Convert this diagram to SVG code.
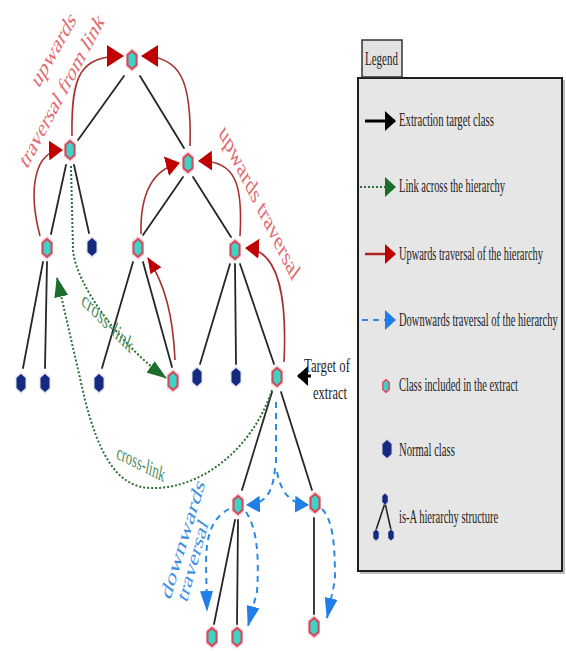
<svg xmlns="http://www.w3.org/2000/svg" width="566" height="651" viewBox="0 0 566 651">
<style>
.edge{stroke:#262626;stroke-width:1.8;fill:none;stroke-linecap:round}
.up{stroke:#a8302f;stroke-width:1.6;fill:none}
.cl{stroke:#2d6e33;stroke-width:2;stroke-dasharray:2 2;fill:none}
.dn{stroke:#2b8ae6;stroke-width:2;stroke-dasharray:6 5;fill:none}
.lt{font-family:"Liberation Serif",serif;font-size:18px;fill:#1e1e1e}
.rt{font-family:"Liberation Serif",serif;fill:#e26a70}
.gt{font-family:"Liberation Serif",serif;fill:#4e8a58}
.bt{font-family:"Liberation Serif",serif;fill:#3f8fe0}
</style>
<defs>
<g id="inc"><polygon points="0,-12 6,-7 6,7 0,12 -6,7 -6,-7" fill="#f9d3d7"/><polygon points="0,-9 4.5,-5 4.5,5 0,9 -4.5,5 -4.5,-5" fill="#3fd3c6" stroke="#d4485c" stroke-width="2"/></g>
<g id="nrm"><polygon points="0,-11 5.5,-6 5.5,6 0,11 -5.5,6 -5.5,-6" fill="#c9cfe8" opacity="0.6"/><polygon points="0,-9 4.5,-5 4.5,5 0,9 -4.5,5 -4.5,-5" fill="#142a80"/></g>
<marker id="hRed" markerUnits="userSpaceOnUse" markerWidth="14" markerHeight="20" viewBox="0 0 14 20" refX="13" refY="10" orient="auto"><path d="M0,0 L14,10 L0,20 Z" fill="#c00000"/></marker>
<marker id="hRedBig" markerUnits="userSpaceOnUse" markerWidth="17" markerHeight="22" viewBox="0 0 17 22" refX="16" refY="11" orient="auto"><path d="M0,0 L17,11 L0,22 Z" fill="#c00000"/></marker>
<marker id="vRed" markerUnits="userSpaceOnUse" markerWidth="16" markerHeight="13" viewBox="0 0 16 13" refX="15" refY="6.5" orient="auto"><path d="M0,0 L16,6.5 L0,13 Z" fill="#c00000"/></marker>
<marker id="vGreen" markerUnits="userSpaceOnUse" markerWidth="20" markerHeight="14" viewBox="0 0 20 14" refX="19" refY="7" orient="auto"><path d="M0,0 L20,7 L0,14 Z" fill="#1b6e2c"/></marker>
<marker id="hBlue" markerUnits="userSpaceOnUse" markerWidth="14" markerHeight="17" viewBox="0 0 14 17" refX="13" refY="8.5" orient="auto"><path d="M0,0 L14,8.5 L0,17 Z" fill="#1f7fe6"/></marker>
<marker id="vBlue" markerUnits="userSpaceOnUse" markerWidth="21" markerHeight="13" viewBox="0 0 21 13" refX="20" refY="6.5" orient="auto"><path d="M0,0 L21,6.5 L0,13 Z" fill="#1f7fe6"/></marker>
<marker id="lBlack" markerUnits="userSpaceOnUse" markerWidth="11" markerHeight="20" viewBox="0 0 11 20" refX="10" refY="10" orient="auto"><path d="M0,0 L11,10 L0,20 Z" fill="#000"/></marker>
<marker id="lGreen" markerUnits="userSpaceOnUse" markerWidth="11" markerHeight="20" viewBox="0 0 11 20" refX="10" refY="10" orient="auto"><path d="M0,0 L11,10 L0,20 Z" fill="#1b6e2c"/></marker>
<marker id="lRed" markerUnits="userSpaceOnUse" markerWidth="11" markerHeight="20" viewBox="0 0 11 20" refX="10" refY="10" orient="auto"><path d="M0,0 L11,10 L0,20 Z" fill="#c00000"/></marker>
<marker id="lBlue" markerUnits="userSpaceOnUse" markerWidth="11" markerHeight="20" viewBox="0 0 11 20" refX="10" refY="10" orient="auto"><path d="M0,0 L11,10 L0,20 Z" fill="#1f7fe6"/></marker>
</defs>
<rect width="566" height="651" fill="#ffffff"/>

<g id="connectors">
<path class="edge" d="M124,76 L78,140"/>
<path class="edge" d="M140,76 L184,148"/>
<path class="edge" d="M66,165 L51,234"/>
<path class="edge" d="M74,165 L89,233"/>
<path class="edge" d="M183,177 L143,235"/>
<path class="edge" d="M193,177 L231,237"/>
<path class="edge" d="M43,262 L23,368"/>
<path class="edge" d="M47,262 L45,368"/>
<path class="edge" d="M133,262 L102,368"/>
<path class="edge" d="M143,262 L172,367"/>
<path class="edge" d="M230,264 L200,364"/>
<path class="edge" d="M235,264 L236,364"/>
<path class="edge" d="M240,264 L274,364"/>
<path class="edge" d="M272,392 L242,490"/>
<path class="edge" d="M281,392 L312,490"/>
<path class="edge" d="M235,520 L214,624"/>
<path class="edge" d="M238,520 L237,624"/>
<path class="edge" d="M314,518 L314,614"/>

<path class="up" d="M72,136 C71,75 80,56 123,56" marker-end="url(#hRedBig)"/>
<path class="up" d="M190,146 C192,80 180,56 142,56" marker-end="url(#hRedBig)"/>
<path class="up" d="M40,236 C28,190 34,151 62,150" marker-end="url(#hRed)"/>
<path class="up" d="M141,234 C140,195 152,170 179,163" marker-end="url(#hRed)"/>
<path class="up" d="M240,236 C243,185 236,160 199,161" marker-end="url(#hRed)"/>
<path class="up" d="M284,362 C287,300 280,250 246,248" marker-end="url(#hRed)"/>
<path class="up" d="M175,360 C173,315 165,285 148,258" marker-end="url(#vRed)"/>

<path class="cl" d="M71,166 L73,250 C76,285 120,345 166,378" marker-end="url(#vGreen)"/>
<path class="cl" d="M272,390 C252,450 200,490 150,488 C115,487 98,450 85,400 L57,278" marker-end="url(#vGreen)"/>

<path class="dn" d="M276,402 L276,468"/>
<path class="dn" d="M275,468 C273,492 266,504 247,505" marker-end="url(#hBlue)"/>
<path class="dn" d="M277,472 C281,492 290,504 308,505" marker-end="url(#hBlue)"/>
<path class="dn" d="M229,509 C213,518 206,532 206,565 L207,611" marker-end="url(#vBlue)"/>
<path class="dn" d="M246,512 C258,530 259,560 257,592 L248,626" marker-end="url(#vBlue)"/>
<path class="dn" d="M322,509 C333,520 335,545 335,580 L327,618" marker-end="url(#vBlue)"/>

<path d="M311,376 L298,376" stroke="#000" stroke-width="3" fill="none" marker-end="url(#lBlack)"/>
</g>

<g id="n-root"><use href="#inc" transform="translate(132,60)"/></g>
<g id="n-a"><use href="#inc" transform="translate(70,150)"/></g>
<g id="n-b"><use href="#inc" transform="translate(188,163)"/></g>
<g id="n-a1"><use href="#inc" transform="translate(47,248)"/></g>
<g id="n-a2"><use href="#nrm" transform="translate(92,247)"/></g>
<g id="n-b1"><use href="#inc" transform="translate(138,248)"/></g>
<g id="n-b2"><use href="#inc" transform="translate(235,250)"/></g>
<g id="n-a1a"><use href="#nrm" transform="translate(21,383)"/></g>
<g id="n-a1b"><use href="#nrm" transform="translate(45,383)"/></g>
<g id="n-b1a"><use href="#nrm" transform="translate(99,383)"/></g>
<g id="n-b1b"><use href="#inc" transform="translate(173,381)"/></g>
<g id="n-b2a"><use href="#nrm" transform="translate(197,377)"/></g>
<g id="n-b2b"><use href="#nrm" transform="translate(236,377)"/></g>
<g id="n-target"><use href="#inc" transform="translate(277,377)"/></g>
<g id="n-t1"><use href="#inc" transform="translate(238,505)"/></g>
<g id="n-t2"><use href="#inc" transform="translate(315,503)"/></g>
<g id="n-t1a"><use href="#inc" transform="translate(212,637)"/></g>
<g id="n-t1b"><use href="#inc" transform="translate(237,637)"/></g>
<g id="n-t2a"><use href="#inc" transform="translate(314,627)"/></g>

<g id="labels">
<text class="rt" font-size="26" text-anchor="middle" dy="0.35em" textLength="92" lengthAdjust="spacingAndGlyphs" transform="translate(53.5,49) scale(0.62,1) rotate(-48)">upwards</text>
<text class="rt" font-size="26" text-anchor="middle" dy="0.35em" textLength="194" lengthAdjust="spacingAndGlyphs" transform="translate(61.5,90) scale(0.62,1) rotate(-49.5)">traversal from link</text>
<text class="rt" font-size="27" text-anchor="middle" dy="0.35em" textLength="191" lengthAdjust="spacingAndGlyphs" transform="translate(260,202) scale(0.62,1) rotate(51)">upwards traversal</text>
<text class="bt" font-size="26" text-anchor="middle" dy="0.35em" textLength="130" lengthAdjust="spacingAndGlyphs" transform="translate(182.5,538.5) scale(0.62,1) rotate(-64)">downwards</text>
<text class="bt" font-size="26" text-anchor="middle" dy="0.35em" textLength="87" lengthAdjust="spacingAndGlyphs" transform="translate(192.5,560) scale(0.62,1) rotate(-66)">traversal</text>
<text class="gt" font-size="22" text-anchor="middle" dy="0.35em" textLength="95" lengthAdjust="spacingAndGlyphs" transform="translate(108,322) scale(0.62,1) rotate(32)">cross-link</text>
<text class="gt" font-size="21" text-anchor="middle" dy="0.35em" textLength="81" lengthAdjust="spacingAndGlyphs" transform="translate(141,463) scale(0.62,1) rotate(17)">cross-link</text>
<text class="lt" font-size="19" transform="translate(304,372) scale(0.62,1)" textLength="74" lengthAdjust="spacingAndGlyphs">Target of</text>
<text class="lt" font-size="19" transform="translate(313,399) scale(0.62,1)" textLength="55" lengthAdjust="spacingAndGlyphs">extract</text>
</g>

<g id="legend">
<rect x="360" y="80" width="205" height="494" fill="#bdbdbd"/>
<rect x="358" y="78" width="204" height="493" fill="#e6e6e6" stroke="#1e1e1e" stroke-width="2"/>
<rect x="362" y="40" width="40" height="37" fill="#e2e2e2" stroke="#333" stroke-width="1.5"/>
<text class="lt" transform="translate(365,65) scale(0.62,1)" textLength="53" lengthAdjust="spacingAndGlyphs">Legend</text>
<path d="M365,121 L395,121" stroke="#000" stroke-width="3" fill="none" marker-end="url(#lBlack)"/>
<text class="lt" transform="translate(399,126) scale(0.62,1)" textLength="153" lengthAdjust="spacingAndGlyphs">Extraction target class</text>
<path d="M360,187 L395,187" class="cl" marker-end="url(#lGreen)"/>
<text class="lt" transform="translate(399,192) scale(0.62,1)" textLength="171" lengthAdjust="spacingAndGlyphs">Link across the hierarchy</text>
<path d="M365,254 L395,254" stroke="#b02020" stroke-width="2.5" fill="none" marker-end="url(#lRed)"/>
<text class="lt" transform="translate(399,260) scale(0.62,1)" textLength="232" lengthAdjust="spacingAndGlyphs">Upwards traversal of the hierarchy</text>
<path d="M362,320 L395,320" class="dn" marker-end="url(#lBlue)"/>
<text class="lt" transform="translate(399,326) scale(0.62,1)" textLength="256" lengthAdjust="spacingAndGlyphs">Downwards traversal of the hierarchy</text>
<use href="#inc" transform="translate(386,386) scale(0.7)"/>
<text class="lt" transform="translate(399,391) scale(0.62,1)" textLength="192" lengthAdjust="spacingAndGlyphs">Class included in the extract</text>
<use href="#nrm" transform="translate(387,449)"/>
<text class="lt" transform="translate(399,456) scale(0.62,1)" textLength="90" lengthAdjust="spacingAndGlyphs">Normal class</text>
<path d="M385,503 L376,530 M385,503 L391,530" stroke="#262626" stroke-width="1.6" fill="none"/>
<use href="#nrm" transform="translate(385,499) scale(0.6)"/>
<use href="#nrm" transform="translate(376,535) scale(0.6)"/>
<use href="#nrm" transform="translate(391,535) scale(0.6)"/>
<text class="lt" transform="translate(399,523) scale(0.62,1)" textLength="160" lengthAdjust="spacingAndGlyphs">is-A hierarchy structure</text>
</g>
</svg>
